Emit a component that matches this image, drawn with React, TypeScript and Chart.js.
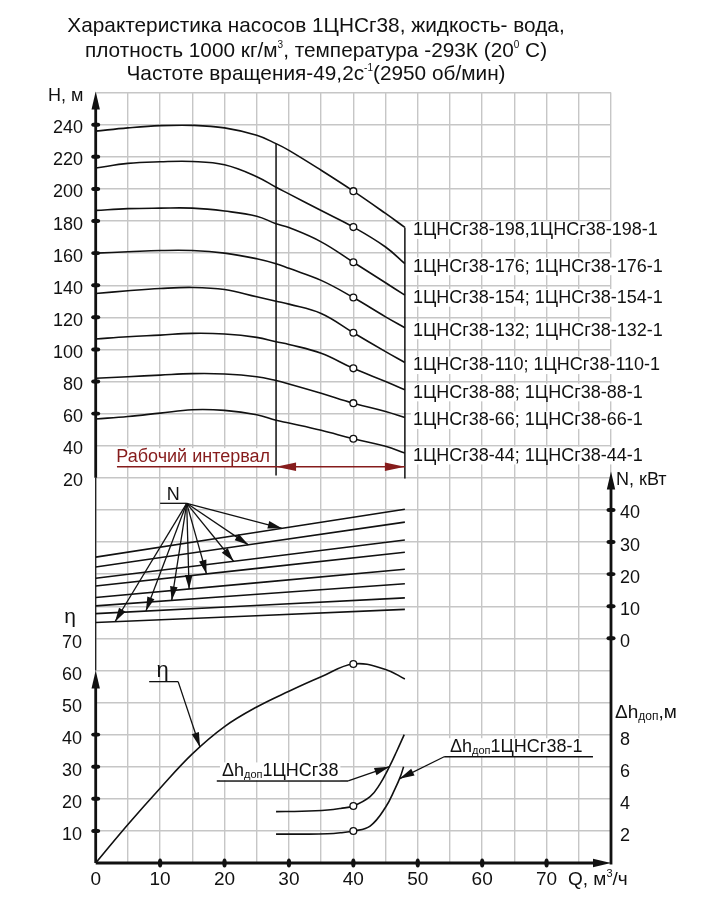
import React, { useEffect, useRef } from "react";
import { Chart, registerables } from "chart.js";

Chart.register(...registerables);

// ---------------- data ----------------
const Q_H = [0, 5, 10, 15, 20, 25, 28, 30, 35, 40, 45, 48];
const H_198 = [236, 238, 239.4, 239.6, 238, 233.4, 228.2, 224, 211.6, 198.6, 184.7, 176];
const H_176 = [213, 215.9, 216.9, 217.1, 215, 207.6, 201, 196.9, 186.5, 176.2, 163.8, 153.4];
const H_154 = [186.6, 187.7, 188, 188, 186.2, 183, 178.3, 175.9, 167, 154.3, 141.5, 133.8];
const H_132 = [160, 160.8, 161.6, 161.6, 160, 156.5, 153.4, 150.5, 143, 132.3, 120.3, 113.5];
const H_110 = [134.8, 136.5, 137.9, 138.6, 137.3, 132.8, 130, 128.2, 122.4, 110.4, 98.6, 91.8];
const H_88 = [106.5, 107.9, 108.9, 110, 109.6, 107.5, 104.8, 103.1, 97.6, 88.2, 80, 74.8];
const H_66 = [82, 83, 84, 84.9, 84.7, 83, 80.6, 78.5, 72.7, 66.5, 61.3, 57.6];
const H_44 = [56.6, 58.2, 60.3, 62.4, 62, 59.3, 55.8, 54.1, 49.6, 44.3, 39.6, 35.5];

const MODEL_LABELS = [
  "1ЦНСг38-198,1ЦНСг38-198-1",
  "1ЦНСг38-176; 1ЦНСг38-176-1",
  "1ЦНСг38-154; 1ЦНСг38-154-1",
  "1ЦНСг38-132; 1ЦНСг38-132-1",
  "1ЦНСг38-110; 1ЦНСг38-110-1",
  "1ЦНСг38-88; 1ЦНСг38-88-1",
  "1ЦНСг38-66; 1ЦНСг38-66-1",
  "1ЦНСг38-44; 1ЦНСг38-44-1",
];

const Q_N = [0, 48];
const N_198 = [25.3, 40.2];
const N_176 = [22.2, 36.2];
const N_154 = [18.7, 30.6];
const N_132 = [16.3, 26.8];
const N_110 = [12.7, 21.5];
const N_88 = [10.1, 17.0];
const N_66 = [7.7, 12.6];
const N_44 = [4.9, 9.0];

const Q_ETA = [0, 5, 10, 15, 20, 25, 30, 35, 40, 45, 48];
const ETA = [0, 12, 23.3, 34, 42.5, 48.6, 53.5, 58, 62, 60.3, 57.3];

const Q_DH_A = [28, 32, 36, 38, 40, 42.6, 44.1, 45.6, 46.7, 47.9];
const DH_A = [3.2, 3.22, 3.3, 3.4, 3.55, 4.13, 4.9, 6.0, 6.93, 8.0];
const Q_DH_B = [28, 32, 36, 38, 40, 42.6, 45, 46.5, 47.3, 47.8];
const DH_B = [1.8, 1.8, 1.82, 1.88, 1.99, 2.3, 3.47, 4.65, 5.38, 6.0];

const Q_TICKS = [0, 10, 20, 30, 40, 50, 60, 70];
const H_TICKS = [20, 40, 60, 80, 100, 120, 140, 160, 180, 200, 220, 240];
const H_DOT_TICKS = [60, 80, 100, 120, 140, 160, 180, 200, 220, 240];
const ETA_TICKS = [10, 20, 30, 40, 50, 60, 70];
const ETA_DOT_TICKS = [10, 20, 30, 40];
const N_TICKS = [0, 10, 20, 30, 40];
const DH_TICKS = [2, 4, 6, 8];

// annotation anchor points (Q positions on the N lines where arrows point)
const N_ARROW_Q = [28.9, 23.7, 21.4, 17.2, 14.5, 11.8, 7.8, 3.0];

// ---------------- helpers ----------------
const FONT = '"Liberation Sans", Arial, sans-serif';
const INK = "#111111";
const RED = "#861c1c";
const GRID = "#c6c6c6";

const H_SERIES = [H_198, H_176, H_154, H_132, H_110, H_88, H_66, H_44];
const N_SERIES = [N_198, N_176, N_154, N_132, N_110, N_88, N_66, N_44];

const pts = (xs: number[], ys: number[]) => xs.map((x, i) => ({ x, y: ys[i] }));

function lerpAt(xs: number[], ys: number[], x: number) {
  for (let i = 0; i < xs.length - 1; i++) {
    if (x >= xs[i] && x <= xs[i + 1]) {
      const t = (x - xs[i]) / (xs[i + 1] - xs[i]);
      return ys[i] + t * (ys[i + 1] - ys[i]);
    }
  }
  return x < xs[0] ? ys[0] : ys[ys.length - 1];
}

type Part = { t: string; s: number; dy?: number };

function font(size: number) {
  return `${size}px ${FONT}`;
}

function richWidth(ctx: CanvasRenderingContext2D, parts: Part[]) {
  let w = 0;
  for (const p of parts) {
    ctx.font = font(p.s);
    w += ctx.measureText(p.t).width;
  }
  return w;
}

function drawRich(
  ctx: CanvasRenderingContext2D,
  x: number,
  y: number,
  parts: Part[],
  align: "left" | "center" | "right",
  color: string,
  bg = false
) {
  const w = richWidth(ctx, parts);
  let cx = align === "left" ? x : align === "center" ? x - w / 2 : x - w;
  const maxS = Math.max(...parts.map((p) => p.s));
  if (bg) {
    ctx.fillStyle = "#ffffff";
    ctx.fillRect(cx - 2, y - maxS * 0.78, w + 4, maxS * 0.98);
  }
  ctx.fillStyle = color;
  ctx.textAlign = "left";
  ctx.textBaseline = "alphabetic";
  for (const p of parts) {
    ctx.font = font(p.s);
    ctx.fillText(p.t, cx, y + (p.dy || 0));
    cx += ctx.measureText(p.t).width;
  }
}

function seg(ctx: CanvasRenderingContext2D, x1: number, y1: number, x2: number, y2: number) {
  ctx.beginPath();
  ctx.moveTo(x1, y1);
  ctx.lineTo(x2, y2);
  ctx.stroke();
}

function head(
  ctx: CanvasRenderingContext2D,
  x1: number,
  y1: number,
  x2: number,
  y2: number,
  len: number,
  half: number
) {
  const a = Math.atan2(y2 - y1, x2 - x1);
  const c = Math.cos(a);
  const s = Math.sin(a);
  ctx.beginPath();
  ctx.moveTo(x2, y2);
  ctx.lineTo(x2 - len * c - half * s, y2 - len * s + half * c);
  ctx.lineTo(x2 - len * c + half * s, y2 - len * s - half * c);
  ctx.closePath();
  ctx.fill();
}

function arrow(
  ctx: CanvasRenderingContext2D,
  x1: number,
  y1: number,
  x2: number,
  y2: number,
  len = 13,
  half = 3.6
) {
  seg(ctx, x1, y1, x2, y2);
  head(ctx, x1, y1, x2, y2, len, half);
}

function dot(ctx: CanvasRenderingContext2D, x: number, y: number, rx: number, ry: number) {
  ctx.beginPath();
  ctx.ellipse(x, y, rx, ry, 0, 0, Math.PI * 2);
  ctx.fill();
}

// ---------------- overlay plugin ----------------
const overlay = {
  id: "overlay",
  beforeDraw(chart: any) {
    const { ctx, width, height } = chart;
    ctx.save();
    ctx.fillStyle = "#ffffff";
    ctx.fillRect(0, 0, width, height);
    ctx.restore();
  },
  afterDraw(chart: any) {
    const ctx: CanvasRenderingContext2D = chart.ctx;
    const s = chart.scales;
    const X = (v: number) => s.x.getPixelForValue(v);
    const YH = (v: number) => s.yH.getPixelForValue(v);
    const YN = (v: number) => s.yN.getPixelForValue(v);
    const YE = (v: number) => s.yE.getPixelForValue(v);
    const YD = (v: number) => s.yD.getPixelForValue(v);
    const area = chart.chartArea;

    ctx.save();
    ctx.strokeStyle = INK;
    ctx.fillStyle = INK;
    ctx.lineWidth = 1.5;

    // ---- title ----
    const TX = 316;
    drawRich(ctx, TX, 32, [{ t: "Характеристика насосов 1ЦНСг38, жидкость- вода,", s: 20.8 }], "center", INK);
    drawRich(
      ctx,
      TX,
      56.5,
      [
        { t: "плотность 1000 кг/м", s: 20.8 },
        { t: "3", s: 10, dy: -9 },
        { t: ", температура -293К (20", s: 20.8 },
        { t: "0", s: 10, dy: -9 },
        { t: " С)", s: 20.8 },
      ],
      "center",
      INK
    );
    drawRich(
      ctx,
      TX,
      80,
      [
        { t: "Частоте вращения-49,2с", s: 20.8 },
        { t: "-1", s: 10, dy: -9 },
        { t: "(2950 об/мин)", s: 20.8 },
      ],
      "center",
      INK
    );

    // ---- working interval boundaries ----
    ctx.strokeStyle = INK;
    ctx.lineWidth = 1.5;
    const i28 = Q_H.indexOf(28);
    seg(ctx, X(28), YH(H_198[i28]), X(28), YH(21.5));
    seg(ctx, X(48), YH(H_198[H_198.length - 1]), X(48), YH(19.5));

    // working interval arrow (red)
    ctx.strokeStyle = RED;
    ctx.fillStyle = RED;
    ctx.lineWidth = 1.6;
    const yW = YH(26.9);
    seg(ctx, X(3.3), yW, X(48), yW);
    head(ctx, X(40), yW, X(28), yW, 20, 4.3);
    head(ctx, X(36), yW, X(48), yW, 20, 4.3);
    drawRich(ctx, X(3.2), yW - 4.5, [{ t: "Рабочий интервал", s: 18 }], "left", RED, true);

    // ---- model labels ----
    ctx.fillStyle = INK;
    H_SERIES.forEach((arr, i) => {
      const y = YH(arr[arr.length - 1]) + 1.5 + 6.4;
      drawRich(ctx, X(48) + 8, y, [{ t: MODEL_LABELS[i], s: 18 }], "left", INK, true);
    });

    // ---- N annotation ----
    ctx.strokeStyle = INK;
    ctx.fillStyle = INK;
    ctx.lineWidth = 1.3;
    const nx0 = X(10.0);
    const nx1 = X(14.13);
    const ny = YN(42.05);
    seg(ctx, nx0, ny, nx1, ny);
    N_SERIES.forEach((arr, i) => {
      const q = N_ARROW_Q[i];
      const v = lerpAt(Q_N, arr, q);
      ctx.fillStyle = INK;
      arrow(ctx, nx1, ny, X(q), YN(v), 14, 3.8);
    });
    drawRich(ctx, X(12.05), ny - 3.5, [{ t: "N", s: 18 }], "center", INK);

    // ---- eta annotation ----
    const ex0 = X(8.3);
    const ex1 = X(12.8);
    const ey = YE(56.5);
    seg(ctx, ex0, ey, ex1, ey);
    arrow(ctx, ex1, ey, X(16.2), YE(lerpAt(Q_ETA, ETA, 16.2)), 15, 3.8);
    drawRich(ctx, X(10.4), ey - 5, [{ t: "η", s: 22 }], "center", INK);

    // ---- Δh annotations ----
    const ay = YD(5.11);
    seg(ctx, X(18.8), ay, X(39.2), ay);
    arrow(ctx, X(39.2), ay, X(45.6), YD(lerpAt(Q_DH_A, DH_A, 45.6)), 15, 3.8);
    drawRich(
      ctx,
      X(19.6),
      ay - 4.5,
      [
        { t: "Δh", s: 18 },
        { t: "доп", s: 11, dy: 1.5 },
        { t: "1ЦНСг38", s: 18 },
      ],
      "left",
      INK,
      true
    );
    const by = YD(6.62);
    seg(ctx, X(54.1), by, X(77.2), by);
    arrow(ctx, X(54.1), by, X(47.15), YD(lerpAt(Q_DH_B, DH_B, 47.15)), 15, 3.8);
    drawRich(
      ctx,
      X(55.0),
      by - 4.5,
      [
        { t: "Δh", s: 18 },
        { t: "доп", s: 11, dy: 1.5 },
        { t: "1ЦНСг38-1", s: 18 },
      ],
      "left",
      INK,
      true
    );

    // ---- axes ----
    ctx.strokeStyle = INK;
    ctx.fillStyle = INK;
    const x0 = X(0);
    const xR = X(80);
    const yB = YE(0);

    // left H axis
    ctx.lineWidth = 2.8;
    seg(ctx, x0, YH(20), x0, area.top + 12);
    head(ctx, x0, YH(20), x0, area.top - 1, 18, 4.2);
    // thin connector
    ctx.lineWidth = 1.2;
    seg(ctx, x0, YH(20), x0, YE(60));
    // eta axis
    ctx.lineWidth = 2.8;
    seg(ctx, x0, yB, x0, YE(60) + 12);
    head(ctx, x0, yB, x0, YE(60), 18, 4.2);
    // bottom axis
    seg(ctx, x0, yB, xR - 12, yB);
    head(ctx, x0, yB, xR, yB, 18, 4.2);
    // right axis
    seg(ctx, xR, yB + 1.4, xR, YN(52) + 12);
    head(ctx, xR, yB, xR, YN(52), 18, 4.2);

    // tick dots
    H_DOT_TICKS.forEach((v) => dot(ctx, x0, YH(v), 4.5, 2.2));
    ETA_DOT_TICKS.forEach((v) => dot(ctx, x0, YE(v), 4.5, 2.2));
    N_TICKS.forEach((v) => dot(ctx, xR, YN(v), 4.5, 2.2));
    Q_TICKS.filter((v) => v > 0).forEach((v) => dot(ctx, X(v), yB, 2.2, 4.5));

    // tick labels
    H_TICKS.forEach((v) => drawRich(ctx, 83, YH(v) + 8.5, [{ t: String(v), s: 18 }], "right", INK));
    ETA_TICKS.forEach((v) => drawRich(ctx, 82, YE(v) + 9.5, [{ t: String(v), s: 18 }], "right", INK));
    Q_TICKS.forEach((v) => drawRich(ctx, X(v), 885, [{ t: String(v), s: 19 }], "center", INK));
    N_TICKS.forEach((v) => drawRich(ctx, xR + 9, YN(v) + 8.5, [{ t: String(v), s: 18 }], "left", INK));
    DH_TICKS.forEach((v) => drawRich(ctx, xR + 9, YD(v) + 10.5, [{ t: String(v), s: 18 }], "left", INK));

    // axis titles
    drawRich(ctx, 48, 101, [{ t: "Н, м", s: 18 }], "left", INK);
    drawRich(ctx, 70, 622.5, [{ t: "η", s: 21 }], "center", INK);
    drawRich(
      ctx,
      568,
      885,
      [
        { t: "Q, м", s: 19 },
        { t: "3", s: 11, dy: -8 },
        { t: "/ч", s: 19 },
      ],
      "left",
      INK
    );
    drawRich(ctx, xR + 5, 485, [{ t: "N, кВт", s: 18 }], "left", INK);
    drawRich(
      ctx,
      xR + 4,
      718,
      [
        { t: "Δh", s: 19 },
        { t: "доп", s: 12, dy: 1.5 },
        { t: ",м", s: 19 },
      ],
      "left",
      INK
    );

    ctx.restore();
  },
};

// ---------------- chart ----------------
function lineDs(data: { x: number; y: number }[], axis: string) {
  return {
    type: "line" as const,
    data,
    yAxisID: axis,
    xAxisID: "x",
    borderColor: INK,
    borderWidth: 1.6,
    fill: false,
    tension: 0.4,
    pointRadius: (c: any) => (c.raw && c.raw.x === 40 ? 3.4 : 0),
    pointHoverRadius: 0,
    pointBackgroundColor: "#ffffff",
    pointBorderColor: INK,
    pointBorderWidth: 1.3,
  };
}

export default function App() {
  const ref = useRef<HTMLCanvasElement>(null);

  useEffect(() => {
    const datasets: any[] = [];
    H_SERIES.forEach((arr) => datasets.push(lineDs(pts(Q_H, arr), "yH")));
    N_SERIES.forEach((arr) => datasets.push(lineDs(pts(Q_N, arr), "yN")));
    datasets.push(lineDs(pts(Q_ETA, ETA), "yE"));
    datasets.push(lineDs(pts(Q_DH_A, DH_A), "yD"));
    datasets.push(lineDs(pts(Q_DH_B, DH_B), "yD"));

    const gridOpts = { color: GRID, lineWidth: 1.4, drawTicks: false };
    const hidden = (min: number, max: number) => ({ type: "linear", min, max, display: false });

    const chart = new Chart(ref.current as HTMLCanvasElement, {
      type: "line",
      data: { datasets },
      options: {
        responsive: false,
        animation: false,
        events: [],
        parsing: true,
        layout: { padding: { left: 95.7, right: 96, top: 92.6, bottom: 47 } },
        plugins: {
          legend: { display: false },
          tooltip: { enabled: false },
          title: { display: false },
        },
        scales: {
          x: {
            type: "linear",
            min: 0,
            max: 80,
            position: "bottom",
            ticks: { display: false, stepSize: 5, maxTicksLimit: 200 },
            grid: gridOpts,
            border: { display: false },
          },
          y: {
            type: "linear",
            min: 0,
            max: 24,
            position: "left",
            ticks: { display: false, stepSize: 1, maxTicksLimit: 200 },
            grid: gridOpts,
            border: { display: false },
          },
          yH: hidden(-220, 260),
          yN: hidden(-70, 170),
          yE: hidden(0, 240),
          yD: hidden(0, 48),
        } as any,
      },
      plugins: [overlay],
    } as any);
    return () => chart.destroy();
  }, []);

  return (
    <div style={{ position: "absolute", left: 0, top: 0, width: 707, height: 910, background: "#fff" }}>
      <canvas ref={ref} width={707} height={910} style={{ display: "block", width: 707, height: 910 }} />
    </div>
  );
}
